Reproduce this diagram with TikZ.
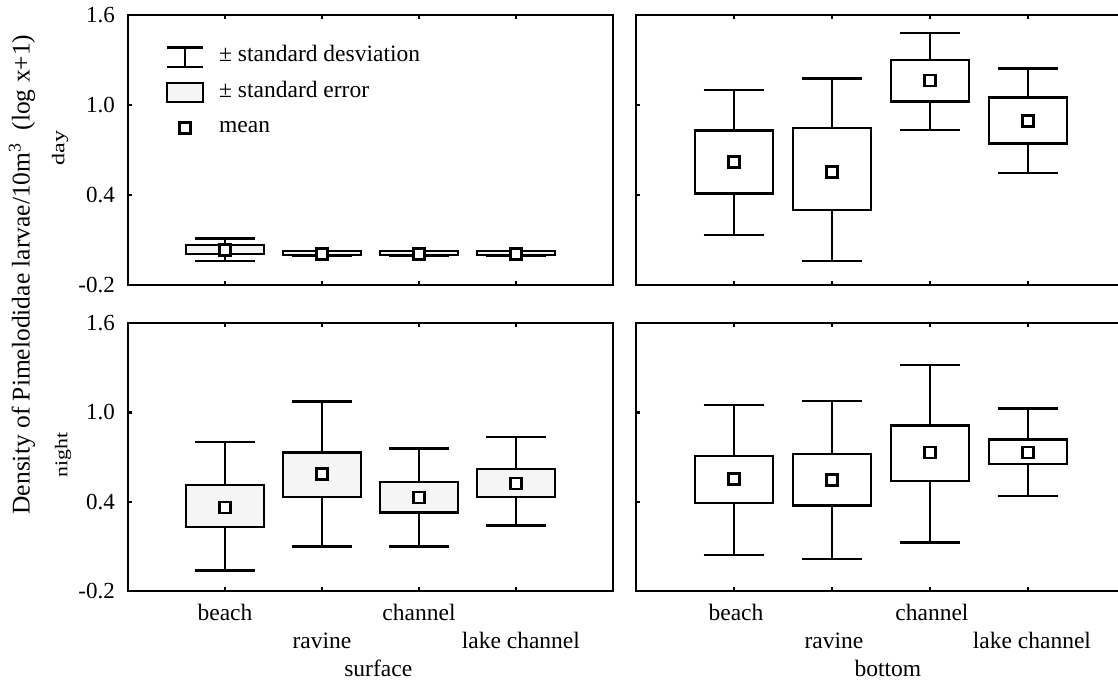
\documentclass[tikz,border=0pt]{standalone}
\usepackage{fontspec}
\setmainfont{Liberation Serif}
\usepackage{graphicx}
\usepackage{tikz}
\usetikzlibrary{positioning}

\begin{document}
\begin{tikzpicture}[
    x=1pt, y=1pt,
    frame/.style={line width=2.4pt},
    sdline/.style={line width=2.4pt},
    sebox/.style={draw, line width=2.4pt, fill=#1},
    sebox/.default=white,
    meanmark/.style={draw, rectangle, line width=2.6pt, fill=white, minimum size=11pt, inner sep=0pt},
    lbl/.style={font=\fontsize{23.5}{28}\selectfont, inner sep=0pt},
    ticklbl/.style={font=\fontsize{23}{28}\selectfont, anchor=east, inner sep=0pt, xshift=-13pt},
    rowlbl/.style={font=\fontsize{23}{26}\selectfont, rotate=90, inner sep=0pt}
]
    \useasboundingbox (0,0) rectangle (1118,682);
    \clip (0,0) rectangle (1118,682);

    % Y axis title and row labels
    \node[rotate=90, font=\fontsize{25.5}{30}\selectfont, inner sep=0pt] (ytitle) at (22,407.5)
        {Density of Pimelodidae larvae/10m\textsuperscript{3}\ \ (log x+1)};
    \node[rowlbl] (rowday) at (60,534) {\scalebox{1.05}[0.78]{day}};
    \node[rowlbl] (rownight) at (63,227) {\scalebox{0.95}[0.78]{night}};

    % Top left: day, surface
    \begin{scope}[shift={(128pt,427pt)}, x=97pt, y=150pt]
        \draw[frame] (0,-0.2) rectangle (5,1.6);
        \foreach \i in {1,...,4} {
            \draw[frame] (\i,-0.2) -- ++(0,4pt);
            \draw[frame] (\i,1.6) -- ++(0,-4pt);
        }
        \foreach \v/\t [count=\k] in {-0.2/-0.2, 0.4/0.4, 1.0/1.0, 1.6/1.6} {
            \draw[frame] (0,\v) -- ++(4pt,0);
            \node[ticklbl] (ytop\k) at (0,\v) {\t};
        }
        \foreach \i/\sdlo/\selo/\mn/\sehi/\sdhi in {
            1/-0.04/0.007/0.033/0.067/0.109,
            2/-0.005/0.0/0.005/0.025/0.02,
            3/-0.005/0.0/0.005/0.025/0.02,
            4/-0.005/0.0/0.005/0.025/0.02} {
            \draw[sdline] (\i,\sdlo) -- (\i,\sdhi);
            \draw[sdline] (\i-0.31,\sdlo) -- (\i+0.31,\sdlo);
            \draw[sdline] (\i-0.31,\sdhi) -- (\i+0.31,\sdhi);
            \draw[sebox=gray!8] (\i-0.4,\selo) rectangle (\i+0.4,\sehi);
            \node[meanmark] (tlmean\i) at (\i,\mn) {};
        }
    \end{scope}

    % Legend
    \draw[sdline] (167,634.3) -- (203,634.3);
    \draw[sdline] (167,615) -- (203,615);
    \draw[sdline] (185,634.3) -- (185,615);
    \node[lbl, anchor=base west] (legsd) at (219,620) {± standard desviation};
    \draw[sebox=gray!8] (167,580) rectangle (203,599);
    \node[lbl, anchor=base west] (legse) at (219,584.7) {± standard error};
    \node[meanmark] (legmark) at (185,554) {};
    \node[lbl, anchor=base west] (legmean) at (219,549.3) {mean};

    % Top right: day, bottom
    \begin{scope}[shift={(636pt,427pt)}, x=98pt, y=150pt]
        \draw[frame] (0,-0.2) rectangle (5,1.6);
        \foreach \i in {1,...,4} {
            \draw[frame] (\i,-0.2) -- ++(0,4pt);
            \draw[frame] (\i,1.6) -- ++(0,-4pt);
        }
        \foreach \v in {0.4, 1.0}
            \draw[frame] (0,\v) -- ++(4pt,0);
        \foreach \i/\sdlo/\selo/\mn/\sehi/\sdhi in {
            1/0.135/0.411/0.618/0.829/1.098,
            2/-0.04/0.30/0.555/0.845/1.176,
            3/0.833/1.022/1.162/1.30/1.478,
            4/0.547/0.744/0.895/1.051/1.244} {
            \draw[sdline] (\i,\sdlo) -- (\i,\sdhi);
            \draw[sdline] (\i-0.31,\sdlo) -- (\i+0.31,\sdlo);
            \draw[sdline] (\i-0.31,\sdhi) -- (\i+0.31,\sdhi);
            \draw[sebox] (\i-0.4,\selo) rectangle (\i+0.4,\sehi);
            \node[meanmark] (trmean\i) at (\i,\mn) {};
        }
    \end{scope}

    % Bottom left: night, surface
    \begin{scope}[shift={(128pt,120.6pt)}, x=97pt, y=149pt]
        \draw[frame] (0,-0.2) rectangle (5,1.6);
        \foreach \i in {1,...,4} {
            \draw[frame] (\i,-0.2) -- ++(0,4pt);
            \draw[frame] (\i,1.6) -- ++(0,-4pt);
        }
        \foreach \v/\t [count=\k] in {-0.2/-0.2, 0.4/0.4, 1.0/1.0, 1.6/1.6} {
            \draw[frame] (0,\v) -- ++(4pt,0);
            \node[ticklbl] (ybot\k) at (0,\v) {\t};
        }
        \foreach \i/\sdlo/\selo/\mn/\sehi/\sdhi in {
            1/-0.062/0.229/0.363/0.511/0.803,
            2/0.099/0.434/0.585/0.732/1.072,
            3/0.099/0.327/0.428/0.531/0.759,
            4/0.240/0.434/0.524/0.62/0.833} {
            \draw[sdline] (\i,\sdlo) -- (\i,\sdhi);
            \draw[sdline] (\i-0.31,\sdlo) -- (\i+0.31,\sdlo);
            \draw[sdline] (\i-0.31,\sdhi) -- (\i+0.31,\sdhi);
            \draw[sebox=gray!8] (\i-0.4,\selo) rectangle (\i+0.4,\sehi);
            \node[meanmark] (blmean\i) at (\i,\mn) {};
        }
        \node[lbl, anchor=base] (sbeach) at ([yshift=-29.7pt]1,-0.2) {beach};
        \node[lbl, anchor=base] (sravine) at ([yshift=-57.5pt]2,-0.2) {ravine};
        \node[lbl, anchor=base] (schannel) at ([yshift=-29.7pt]3,-0.2) {channel};
        \node[lbl, anchor=base] (slake) at ([yshift=-57.5pt]4.05,-0.2) {lake channel};
        \node[lbl, anchor=base] (surf) at ([yshift=-85.5pt]2.58,-0.2) {surface};
    \end{scope}

    % Bottom right: night, bottom
    \begin{scope}[shift={(636pt,120.6pt)}, x=98pt, y=149pt]
        \draw[frame] (0,-0.2) rectangle (5,1.6);
        \foreach \i in {1,...,4} {
            \draw[frame] (\i,-0.2) -- ++(0,4pt);
            \draw[frame] (\i,1.6) -- ++(0,-4pt);
        }
        \foreach \v in {0.4, 1.0}
            \draw[frame] (0,\v) -- ++(4pt,0);
        \foreach \i/\sdlo/\selo/\mn/\sehi/\sdhi in {
            1/0.043/0.39/0.553/0.709/1.05,
            2/0.016/0.374/0.546/0.719/1.077,
            3/0.128/0.538/0.732/0.911/1.318,
            4/0.437/0.652/0.732/0.819/1.025} {
            \draw[sdline] (\i,\sdlo) -- (\i,\sdhi);
            \draw[sdline] (\i-0.31,\sdlo) -- (\i+0.31,\sdlo);
            \draw[sdline] (\i-0.31,\sdhi) -- (\i+0.31,\sdhi);
            \draw[sebox] (\i-0.4,\selo) rectangle (\i+0.4,\sehi);
            \node[meanmark] (brmean\i) at (\i,\mn) {};
        }
        \node[lbl, anchor=base] (bbeach) at ([yshift=-29.7pt]1.02,-0.2) {beach};
        \node[lbl, anchor=base] (bravine) at ([yshift=-57.5pt]2.02,-0.2) {ravine};
        \node[lbl, anchor=base] (bchannel) at ([yshift=-29.7pt]3.02,-0.2) {channel};
        \node[lbl, anchor=base] (blake) at ([yshift=-57.5pt]4.04,-0.2) {lake channel};
        \node[lbl, anchor=base] (bott) at ([yshift=-85.5pt]2.57,-0.2) {bottom};
    \end{scope}

\end{tikzpicture}
\end{document}
